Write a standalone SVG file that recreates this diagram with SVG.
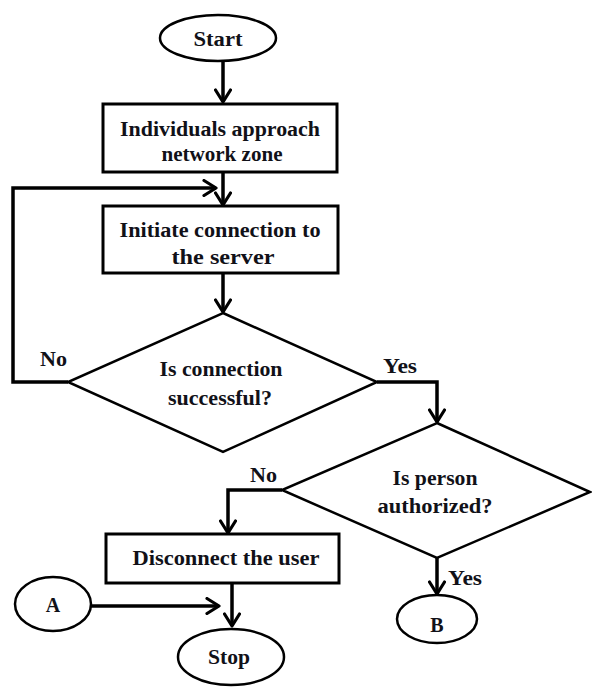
<svg xmlns="http://www.w3.org/2000/svg" width="592" height="687" viewBox="0 0 592 687">
<defs>
<style>
.shape{fill:#ffffff;stroke:#000000;stroke-width:2.5}
.box{fill:#ffffff;stroke:#000000;stroke-width:3}
.conn{fill:none;stroke:#000000;stroke-width:3.5;stroke-linejoin:miter}
text{font-family:"Liberation Serif","Times New Roman",serif;font-weight:bold;font-size:20px;fill:#111118}
.c{text-anchor:middle}
</style>
<marker id="arr" viewBox="0 0 16 18" refX="14" refY="9" markerWidth="16" markerHeight="18" orient="auto" markerUnits="userSpaceOnUse">
<path d="M2,1.5 L14,9 L2,16.5" fill="none" stroke="#000000" stroke-width="3.2" stroke-linecap="round" stroke-linejoin="round"/>
</marker>
</defs>
<rect width="592" height="687" fill="#ffffff"/>

<g id="connectors">
<path class="conn" d="M223,62 V102" marker-end="url(#arr)"/>
<path class="conn" d="M223,172 V205" marker-end="url(#arr)"/>
<path class="conn" d="M68,382 H13 V188 H216" marker-end="url(#arr)"/>
<path class="conn" d="M223,273 V312" marker-end="url(#arr)"/>
<path class="conn" d="M377,382 H437 V422" marker-end="url(#arr)"/>
<path class="conn" d="M282,490 H228 V533" marker-end="url(#arr)"/>
<path class="conn" d="M232,583 V626" marker-end="url(#arr)"/>
<path class="conn" d="M91,606 H219" marker-end="url(#arr)"/>
<path class="conn" d="M437,558 V594" marker-end="url(#arr)"/>
</g>

<g id="start">
<ellipse class="shape" cx="218" cy="38" rx="58" ry="23"/>
<text class="c" x="218" y="46" textLength="49" lengthAdjust="spacingAndGlyphs">Start</text>
</g>

<g id="approach">
<rect class="box" x="103" y="104" width="234" height="68"/>
<text class="c" x="220" y="136" textLength="200" lengthAdjust="spacingAndGlyphs">Individuals approach</text>
<text class="c" x="222" y="161" textLength="121" lengthAdjust="spacingAndGlyphs">network zone</text>
</g>

<g id="initiate">
<rect class="box" x="103" y="206" width="235" height="67"/>
<text class="c" x="220" y="237" textLength="201" lengthAdjust="spacingAndGlyphs">Initiate connection to</text>
<text class="c" x="223" y="264" textLength="103" lengthAdjust="spacingAndGlyphs">the server</text>
</g>

<g id="decision1">
<polygon class="shape" points="223,313 377,382 223,452 68,382"/>
<text class="c" x="221" y="376" textLength="123" lengthAdjust="spacingAndGlyphs">Is connection</text>
<text class="c" x="220" y="405" textLength="104" lengthAdjust="spacingAndGlyphs">successful?</text>
</g>

<g id="labels1">
<text x="40" y="366" textLength="27" lengthAdjust="spacingAndGlyphs">No</text>
<text x="383" y="373" textLength="34" lengthAdjust="spacingAndGlyphs">Yes</text>
</g>

<g id="decision2">
<polygon class="shape" points="437,423 590,492 437,558 282,490"/>
<text class="c" x="435" y="485" textLength="85" lengthAdjust="spacingAndGlyphs">Is person</text>
<text class="c" x="435" y="513" textLength="115" lengthAdjust="spacingAndGlyphs">authorized?</text>
</g>

<g id="labels2">
<text x="250" y="482" textLength="27" lengthAdjust="spacingAndGlyphs">No</text>
<text x="448" y="585" textLength="34" lengthAdjust="spacingAndGlyphs">Yes</text>
</g>

<g id="disconnect">
<rect class="box" x="106" y="534" width="233" height="49"/>
<text class="c" x="226" y="565" textLength="187" lengthAdjust="spacingAndGlyphs">Disconnect the user</text>
</g>

<g id="connectorA">
<ellipse class="shape" cx="53" cy="604" rx="38" ry="27"/>
<text class="c" x="53" y="612">A</text>
</g>

<g id="connectorB">
<ellipse class="shape" cx="437" cy="619" rx="40" ry="24"/>
<text class="c" x="437" y="632">B</text>
</g>

<g id="stop">
<ellipse class="shape" cx="231" cy="657" rx="53" ry="28"/>
<text class="c" x="229" y="664" textLength="42" lengthAdjust="spacingAndGlyphs">Stop</text>
</g>
</svg>
